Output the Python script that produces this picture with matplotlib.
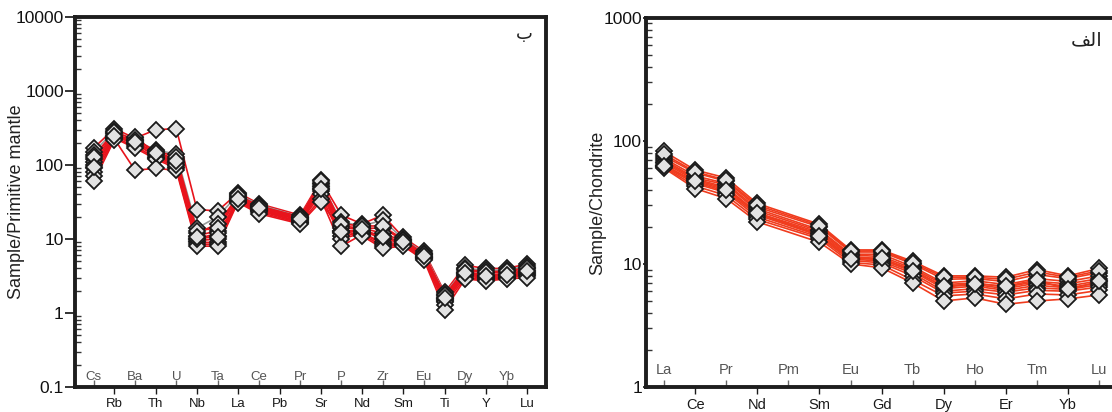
import numpy as np
import matplotlib
matplotlib.use("Agg")
import matplotlib.pyplot as plt
from matplotlib.ticker import LogLocator, NullFormatter, FixedLocator

plt.rcParams["font.family"] = ["Liberation Sans", "DejaVu Sans"]

nan = np.nan

# spider diagram (primitive mantle normalised)
pm_elements = ["Cs", "Rb", "Ba", "Th", "U", "Nb", "Ta", "La", "Ce", "Pb", "Pr",
               "Sr", "P", "Nd", "Zr", "Sm", "Eu", "Ti", "Dy", "Y", "Yb", "Lu"]
pm_samples = [
    [170, 310, 230, 300, 310, 25, 24, 42, 30, nan, 21, 62, 21, 16, 21, 10.5, 6.8, 1.9, 4.4, 4.0, 4.0, 4.6],
    [150, 290, 215, 160, 140, 14, 20, 40, 29, nan, 20, 58, 17, 15, 18, 10, 6.5, 1.8, 4.0, 3.8, 3.8, 4.3],
    [135, 270, 200, 150, 120, 12, 16, 38, 28, nan, 19, 55, 15, 14, 14, 9.6, 6.2, 1.7, 3.8, 3.5, 3.6, 4.0],
    [120, 260, 210, 140, 110, 11, 13, 37, 27, nan, 19, 52, 14, 14, 12, 9.3, 6.0, 1.6, 3.6, 3.3, 3.4, 3.8],
    [110, 250, 190, 135, 105, 10, 11, 36, 26, nan, 18, 50, 13, 13, 11, 9.0, 5.8, 1.55, 3.5, 3.2, 3.3, 3.6],
    [100, 240, 200, 130, 100, 9.5, 10, 35, 25, nan, 18, 48, 12, 13, 10, 8.8, 5.7, 1.5, 3.4, 3.1, 3.2, 3.5],
    [90, 235, 180, 125, 95, 9, 9, 34, 25, nan, 17, 45, 11, 12, 9, 8.6, 5.6, 1.45, 3.3, 3.0, 3.1, 3.4],
    [80, 230, 170, 120, 90, 8.5, 8.5, 33, 24, nan, 17, 40, 10, 12, 8.5, 8.4, 5.5, 1.4, 3.2, 2.9, 3.0, 3.3],
    [70, 225, 85, 90, 85, 8, 8, 32, 23, nan, 16.5, 35, 8, 11.5, 8, 8.2, 5.3, 1.3, 3.0, 2.8, 3.0, 3.2],
    [60, 220, 240, 145, 100, 10, 12, 31, 22, nan, 16, 32, 13, 11, 7.5, 8.0, 5.2, 1.1, 2.9, 2.7, 2.9, 3.0],
    [130, 280, 220, 155, 130, 13, 14, 39, 28, nan, 20, 60, 16, 15, 15, 9.8, 6.3, 1.75, 3.9, 3.6, 3.7, 4.1],
    [95, 245, 205, 145, 115, 10.5, 10.5, 35, 26, nan, 18.5, 47, 12.5, 13.5, 10.5, 9.0, 5.9, 1.6, 3.5, 3.2, 3.3, 3.7],
]
pm_line_colors = ["#e8141c", "#9a9a9a"] + ["#e8141c"] * 10

# REE diagram (chondrite normalised)
ree_elements = ["La", "Ce", "Pr", "Nd", "Pm", "Sm", "Eu", "Gd", "Tb", "Dy",
                "Ho", "Er", "Tm", "Yb", "Lu"]
ree_samples = [
    [82, 58, 50, 31, nan, 21, 13, 13, 10.5, 8.0, 8.0, 7.8, 9.0, 8.0, 9.2],
    [75, 55, 47, 29, nan, 20, 12.5, 12.5, 10, 7.5, 7.6, 7.2, 8.2, 7.6, 8.5],
    [72, 52, 45, 28, nan, 19, 12, 12, 9.5, 7.0, 7.3, 6.8, 7.6, 7.2, 8.0],
    [70, 50, 44, 27, nan, 18.5, 11.8, 11.5, 9.2, 6.8, 7.0, 6.5, 7.2, 6.9, 7.6],
    [68, 49, 42, 26, nan, 18, 11.5, 11, 9.0, 6.5, 6.8, 6.3, 7.0, 6.6, 7.3],
    [66, 48, 41, 25.5, nan, 17.5, 11.2, 10.8, 8.7, 6.3, 6.6, 6.1, 6.7, 6.4, 7.0],
    [64, 46, 39, 25, nan, 17, 11, 10.5, 8.4, 6.0, 6.3, 5.9, 6.4, 6.2, 6.8],
    [62, 45, 38, 24, nan, 16.5, 10.7, 10.2, 8.0, 5.8, 6.0, 5.6, 6.1, 6.0, 6.5],
    [61, 43, 36, 23, nan, 16, 10.3, 9.8, 7.4, 5.5, 5.7, 5.2, 5.7, 5.6, 6.1],
    [60, 41, 34, 22, nan, 15, 10, 9.3, 7.0, 5.0, 5.3, 4.7, 5.0, 5.2, 5.6],
    [78, 56, 48, 30, nan, 20.5, 12.7, 12.8, 10.2, 7.8, 7.8, 7.5, 8.6, 7.8, 8.8],
    [63, 47, 40, 26, nan, 17, 11, 11.2, 8.8, 6.6, 6.9, 6.6, 7.4, 6.2, 7.2],
]
ree_line_color = "#f03c1e"

fig = plt.figure(figsize=(11.12, 4.12), dpi=100)
ax1 = fig.add_axes([0.0674, 0.0607, 0.4236, 0.898])
ax2 = fig.add_axes([0.581, 0.0607, 0.4236, 0.896])


def draw_panel(ax, elements, samples, colors, ylim, ylabels, ylabel, lab_size, lab_y,
               out_tick_len, pad_x):
    x = np.arange(len(elements))
    for vals, c in zip(samples, colors):
        v = np.array(vals, dtype=float)
        ok = ~np.isnan(v)
        ax.plot(x[ok], v[ok], color=c, lw=1.2, zorder=2)
    for vals in samples:
        v = np.array(vals, dtype=float)
        ok = ~np.isnan(v)
        ax.plot(x[ok], v[ok], "D", ms=8.3, mfc="#e2e2e2", mec="#1a1a1a", mew=1.3,
                ls="none", zorder=3)

    ax.set_yscale("log")
    ax.set_ylim(*ylim)
    ax.set_xlim(-pad_x, len(elements) - 1 + pad_x)

    ax.yaxis.set_major_locator(FixedLocator([float(t) for t in ylabels]))
    ax.set_yticklabels(ylabels)
    ax.yaxis.set_minor_locator(LogLocator(base=10, subs=np.arange(2, 10)))
    ax.yaxis.set_minor_formatter(NullFormatter())
    ax.tick_params(axis="y", which="major", direction="out", length=out_tick_len, width=1.2,
                   labelsize=12.5, colors="#111", pad=1)
    ax.tick_params(axis="y", which="minor", direction="in", length=4, width=1.0, color="#333")

    # odd elements labelled below the axis, even ones inside
    ax.set_xticks(x[1::2])
    ax.set_xticklabels(elements[1::2])
    ax.set_xticks(x[0::2], minor=True)
    ax.tick_params(axis="x", which="major", direction="out", length=5, width=1.0,
                   labelsize=lab_size, colors="#1a1a1a", pad=3)
    ax.tick_params(axis="x", which="minor", direction="in", length=5, width=1.0, color="#666")
    for xi, name in zip(x[0::2], elements[0::2]):
        ax.text(xi, lab_y, name, transform=ax.get_xaxis_transform(), ha="center",
                va="bottom", fontsize=lab_size, color="#555")

    for s in ax.spines.values():
        s.set_linewidth(2.8)
        s.set_color("#1e1e1e")
    ax.set_ylabel(ylabel, fontsize=13, color="#222")


draw_panel(ax1, pm_elements, pm_samples, pm_line_colors, (0.1, 10000),
           ["0.1", "1", "10", "100", "1000", "10000"], "Sample/Primitive mantle", 9.5, 0.012, 7,
           0.91)
ax1.yaxis.set_label_coords(-0.105, 0.5)
ax1.text(0.955, 0.955, "\u0628", transform=ax1.transAxes, fontsize=13,
         family=["DejaVu Sans"], ha="center", va="center", color="#222")

draw_panel(ax2, ree_elements, ree_samples, [ree_line_color] * len(ree_samples), (1, 1000),
           ["1", "10", "100", "1000"], "Sample/Chondrite", 10.5, 0.028, 2, 0.58)
ax2.yaxis.set_label_coords(-0.085, 0.5)
ax2.text(0.935, 0.94, "\uFED2\uFEDF\uFE8D", transform=ax2.transAxes, fontsize=14,
         family=["DejaVu Sans"], ha="center", va="center", color="#222")

fig.savefig("out.png", dpi=100)
